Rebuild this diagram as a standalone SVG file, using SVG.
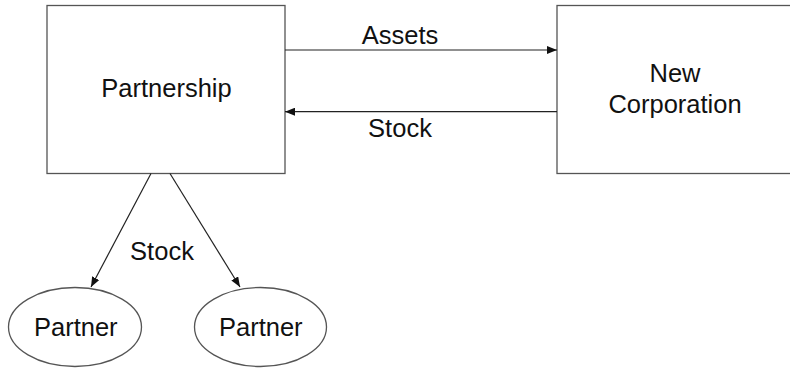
<svg xmlns="http://www.w3.org/2000/svg" width="790" height="368" viewBox="0 0 790 368">
<style>
.box{fill:#fff;stroke:#555;stroke-width:1.3}
.lbl{font-family:"Liberation Sans",Arial,sans-serif;font-size:25.5px;fill:#111;text-anchor:middle}
.con{stroke:#222;stroke-width:1.2;fill:none}
</style>
<defs>
<marker id="ah" viewBox="0 0 10 8" refX="10" refY="4" markerWidth="10" markerHeight="8" markerUnits="userSpaceOnUse" orient="auto">
<path d="M0,0 L10,4 L0,8 Z" fill="#111"/>
</marker>
</defs>
<rect width="790" height="368" fill="#fff"/>
<g id="partnership">
<rect class="box" x="47" y="5.5" width="238" height="168"/>
<text class="lbl" x="166.5" y="97">Partnership</text>
</g>
<g id="new-corporation">
<rect class="box" x="557" y="5.5" width="240" height="168"/>
<text class="lbl" x="675" y="82">New</text>
<text class="lbl" x="675" y="113">Corporation</text>
</g>
<g id="partner1">
<ellipse class="box" cx="75" cy="327" rx="66.5" ry="39.5"/>
<text class="lbl" x="75.8" y="336">Partner</text>
</g>
<g id="partner2">
<ellipse class="box" cx="260.5" cy="327" rx="66" ry="39.5"/>
<text class="lbl" x="260.8" y="336">Partner</text>
</g>
<g id="connectors">
<line class="con" x1="285" y1="50" x2="557" y2="50" marker-end="url(#ah)"/>
<line class="con" x1="557" y1="111.7" x2="285" y2="111.7" marker-end="url(#ah)"/>
<line class="con" x1="151" y1="173.5" x2="91" y2="287" marker-end="url(#ah)"/>
<line class="con" x1="170" y1="173.5" x2="240" y2="287" marker-end="url(#ah)"/>
<text class="lbl" x="400" y="43.5">Assets</text>
<text class="lbl" x="400" y="137">Stock</text>
<text class="lbl" x="162" y="260">Stock</text>
</g>
</svg>
